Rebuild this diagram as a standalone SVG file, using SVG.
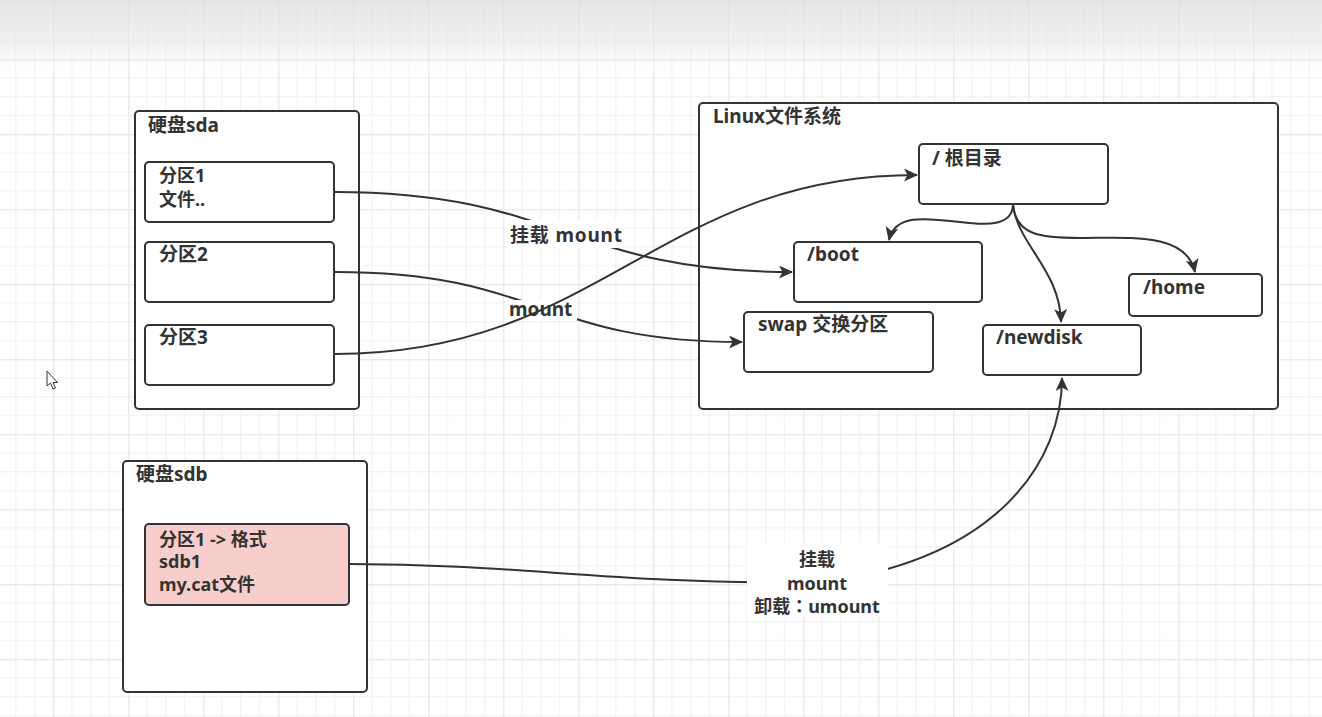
<svg xmlns="http://www.w3.org/2000/svg" width="1322" height="717" viewBox="0 0 1322 717">
<style>
.box{fill:#ffffff;stroke:#333333;stroke-width:2}
.pink{fill:#f8cecc;stroke:#333333;stroke-width:2}
.t{font-family:"Noto Sans","Noto Sans CJK SC",sans-serif;font-weight:bold;font-size:19px;fill:#333333}
.m{font-size:18px}
.edge{fill:none;stroke:#333333;stroke-width:2}
.lblbg{fill:#ffffff}
</style>
<defs>
<pattern id="grid" x="53.3" y="59.3" width="75" height="75" patternUnits="userSpaceOnUse">
<path d="M18.75,0V75M37.5,0V75M56.25,0V75M0,18.75H75M0,37.5H75M0,56.25H75" stroke="#efefef" stroke-width="1" fill="none"/>
<path d="M0.5,0V75M0,0.5H75" stroke="#e2e2e2" stroke-width="1" fill="none"/>
</pattern>
<linearGradient id="top" x1="0" y1="0" x2="0" y2="1">
<stop offset="0" stop-color="#dcdcdc" stop-opacity="0.75"/>
<stop offset="0.6" stop-color="#e6e6e6" stop-opacity="0.5"/>
<stop offset="1" stop-color="#ffffff" stop-opacity="0"/>
</linearGradient>
<marker id="arr" markerWidth="15" markerHeight="13" refX="13" refY="6.5" orient="auto" markerUnits="userSpaceOnUse">
<path d="M0,0 L14,6.5 L0,13 L3.5,6.5 Z" fill="#333333"/>
</marker>
</defs>
<rect width="1322" height="717" fill="#ffffff"/>
<rect width="1322" height="717" fill="url(#grid)"/>
<rect width="1322" height="80" fill="url(#top)"/>

<g id="sda">
<rect class="box" x="135" y="111" width="224" height="298" rx="4"/>
<text class="t" x="148" y="132">硬盘sda</text>
</g>
<g id="sda1">
<rect class="box" x="145" y="162" width="189" height="60" rx="4"/>
<text class="t m" x="159" y="182">分区1</text>
<text class="t m" x="159" y="206">文件..</text>
</g>
<g id="sda2">
<rect class="box" x="145" y="242" width="189" height="60" rx="4"/>
<text class="t" x="159" y="261">分区2</text>
</g>
<g id="sda3">
<rect class="box" x="145" y="325" width="189" height="60" rx="4"/>
<text class="t" x="159" y="344">分区3</text>
</g>

<g id="sdb">
<rect class="box" x="123" y="461" width="244" height="231" rx="4"/>
<text class="t" x="136" y="481">硬盘sdb</text>
</g>
<g id="sdb1">
<rect class="pink" x="145" y="524" width="204" height="81" rx="4"/>
<text class="t m" x="159" y="546">分区1 -&gt; 格式</text>
<text class="t m" x="159" y="568">sdb1</text>
<text class="t m" x="159" y="591">my.cat文件</text>
</g>

<g id="linux">
<rect class="box" x="699" y="103" width="579" height="306" rx="4"/>
<text class="t" x="713" y="123">Linux文件系统</text>
</g>
<g id="root">
<rect class="box" x="919" y="144" width="189" height="60" rx="4"/>
<text class="t" x="932" y="165">/ 根目录</text>
</g>
<g id="boot">
<rect class="box" x="794" y="242" width="188" height="60" rx="4"/>
<text class="t" x="807" y="261">/boot</text>
</g>
<g id="swap">
<rect class="box" x="744" y="312" width="189" height="60" rx="4"/>
<text class="t" x="758" y="331">swap 交换分区</text>
</g>
<g id="newdisk">
<rect class="box" x="983" y="325" width="158" height="50" rx="4"/>
<text class="t" x="996" y="344">/newdisk</text>
</g>
<g id="home">
<rect class="box" x="1129" y="274" width="133" height="42" rx="4"/>
<text class="t" x="1143" y="294">/home</text>
</g>

<g id="connectors">
<path class="edge" d="M335,192 C560,192 570,272 792,272" marker-end="url(#arr)"/>
<rect class="lblbg" x="507" y="220" width="118" height="28"/>
<text class="t" x="510" y="242" textLength="112">挂载 mount</text>

<path class="edge" d="M335,272 C540,272 540,342 742,342" marker-end="url(#arr)"/>
<rect class="lblbg" x="507" y="300" width="70" height="20"/>
<text class="t" x="509" y="316">mount</text>

<path class="edge" d="M335,354 C600,354 660,175 917,175" marker-end="url(#arr)"/>

<path class="edge" d="M1013,205 C1012,225 990,226 960,222 C925,218 895,214 889,240" marker-end="url(#arr)"/>
<path class="edge" d="M1013,205 C1016,235 1040,238 1080,238 C1130,238 1186,232 1195,272" marker-end="url(#arr)"/>
<path class="edge" d="M1013,205 C1018,245 1060,270 1061,322" marker-end="url(#arr)"/>

<path class="edge" d="M349,564 C520,564 600,583 817,583 C1000,560 1062,460 1062,378" marker-end="url(#arr)"/>
<rect class="lblbg" x="747" y="543" width="141" height="74"/>
<text class="t m" x="817" y="566" text-anchor="middle">挂载</text>
<text class="t m" x="817" y="590" text-anchor="middle">mount</text>
<text class="t m" x="817" y="613" text-anchor="middle">卸载<tspan font-family="'Noto Sans CJK TC',sans-serif">：</tspan>umount</text>
</g>

<path d="M47,371 L47,386 L50.5,383 L53,389 L55.5,388 L53,382.5 L57.5,382.5 Z" fill="#ffffff" stroke="#333333" stroke-width="1"/>
</svg>
